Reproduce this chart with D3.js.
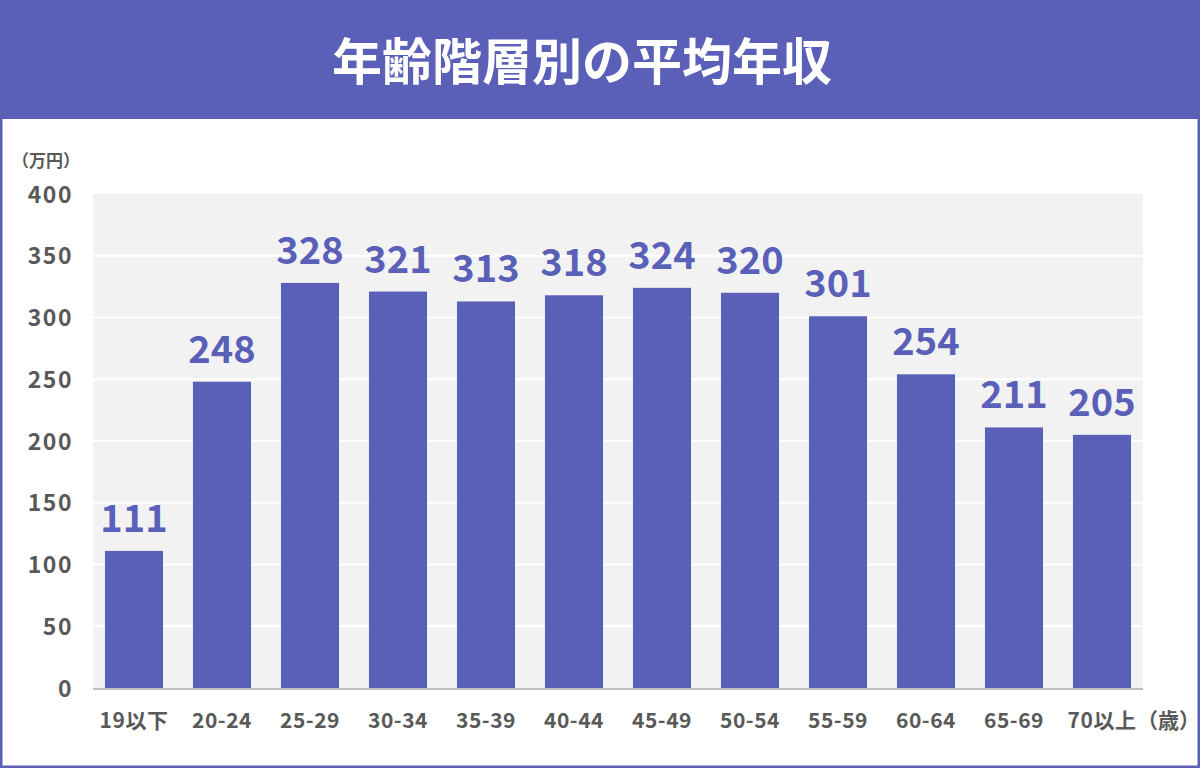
<!DOCTYPE html>
<html><head><meta charset="utf-8">
<script src="https://cdn.jsdelivr.net/npm/d3@7"></script>
<style>
html,body{margin:0;padding:0;background:#fff;}
svg{display:block;}
text{font-family:"Noto Sans CJK JP","Noto Sans",sans-serif;font-weight:700;}
</style></head>
<body>
<svg id="c" width="1200" height="768"></svg>
<script>
const title = "年齢階層別の平均年収";
const categories = ["19以下","20-24","25-29","30-34","35-39","40-44","45-49","50-54","55-59","60-64","65-69","70以上"];
const values = [111,248,328,321,313,318,324,320,301,254,211,205];
const yTicks = [0,50,100,150,200,250,300,350,400];
const unitLabel = "（万円）";
const xUnitLabel = "（歳）";

const purple = "#5a5fb8";
const svg = d3.select("#c");
const W = 1200, H = 768;

// frame
svg.append("rect").attr("x",1).attr("y",1).attr("width",W-2).attr("height",H-2)
  .attr("fill","#fff").attr("stroke",purple).attr("stroke-width",3);
svg.append("rect").attr("x",0).attr("y",0).attr("width",W).attr("height",119).attr("fill",purple);
svg.append("text").attr("x",582).attr("y",80).attr("text-anchor","middle")
  .attr("fill","#fff").attr("font-size",50).text(title);

const plot = {left:93,right:1143,top:194,bottom:688};
const y = d3.scaleLinear().domain([0,400]).range([plot.bottom,plot.top]);
const x = d3.scaleBand().domain(categories).range([90,1146]).paddingInner(0.34).paddingOuter(0.17);

svg.append("rect").attr("x",plot.left).attr("y",plot.top)
  .attr("width",plot.right-plot.left).attr("height",plot.bottom-plot.top).attr("fill","#f2f2f2");

// grid
svg.append("g").selectAll("line").data(yTicks.filter(t=>t>0 && t<400)).join("line")
  .attr("x1",plot.left).attr("x2",plot.right)
  .attr("y1",d=>y(d)).attr("y2",d=>y(d))
  .attr("stroke","#fff").attr("stroke-width",2);

// y axis
const yAxis = d3.axisLeft(y).tickValues(yTicks).tickSize(0).tickPadding(0);
const ya = svg.append("g").attr("transform","translate(73,0)").call(yAxis);
ya.select(".domain").remove();
ya.selectAll("text").attr("font-size",23).attr("fill","#595959").attr("letter-spacing",1.5)
  .attr("font-family",'"Noto Sans CJK JP",sans-serif').attr("font-weight",700).attr("dy","0.35em");

// bars
svg.append("g").selectAll("rect").data(values).join("rect")
  .attr("x",(d,i)=>x(categories[i])).attr("width",x.bandwidth())
  .attr("y",d=>y(d)).attr("height",d=>plot.bottom-y(d)).attr("fill",purple);

// value labels
svg.append("g").selectAll("text").data(values).join("text")
  .attr("x",(d,i)=>x(categories[i])+x.bandwidth()/2).attr("y",d=>y(d)-19)
  .attr("text-anchor","middle").attr("fill",purple).attr("font-size",38).text(d=>d);

// x axis
const xAxis = d3.axisBottom(x).tickSize(0).tickPadding(0);
const xa = svg.append("g").attr("transform",`translate(0,${plot.bottom})`).call(xAxis);
xa.select(".domain").remove();
svg.append("line").attr("x1",plot.left).attr("x2",plot.right)
  .attr("y1",plot.bottom+1).attr("y2",plot.bottom+1).attr("stroke","#bfbfbf").attr("stroke-width",2);
xa.selectAll("text").attr("font-size",21).attr("fill","#595959").attr("letter-spacing",0.5)
  .attr("font-family",'"Noto Sans CJK JP",sans-serif').attr("font-weight",700).attr("dy",0).attr("y",40);

svg.append("text").attr("x",1137).attr("y",728).attr("fill","#595959").attr("font-size",21).text(xUnitLabel);
svg.append("text").attr("x",12).attr("y",167).attr("fill","#595959").attr("font-size",17).text(unitLabel);
</script>
</body></html>
